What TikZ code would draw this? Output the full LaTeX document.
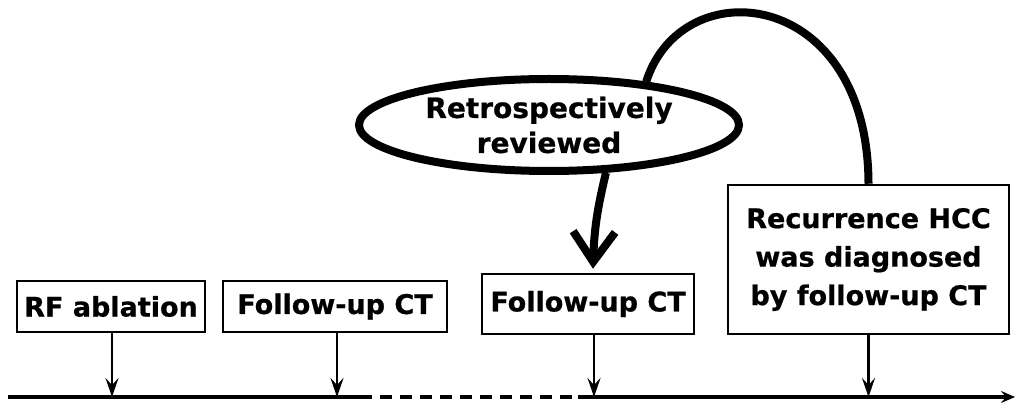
\documentclass[tikz,border=0pt]{standalone}
\usepackage{fontspec}
\setmainfont{DejaVu Sans}[BoldFeatures={FakeBold=0.7}]
\usetikzlibrary{shapes.geometric,arrows.meta}
\begin{document}
\begin{tikzpicture}[x=1pt,y=1pt,
  txt/.style={font=\bfseries\fontsize{27}{38.5}\selectfont,align=center,inner sep=0pt},
  box/.style={txt,draw,line width=2.5pt},
  small/.style={line width=2.5pt,-{Stealth[length=19pt,width=13pt,inset=7pt]}},
  thick line/.style={line width=4pt},
  oval/.style={txt,draw,ellipse,line width=8pt,minimum width=380pt,minimum height=92pt,fontsize},
  fontsize/.style={font=\bfseries\fontsize{28}{35}\selectfont}]
\useasboundingbox (0,0) rectangle (1016,407);
% boxes
\node[box,minimum width=188pt,minimum height=51pt] (b1) at (111,100.5) {RF ablation};
\node[box,minimum width=224pt,minimum height=51pt] (b2) at (335,100.5) {Follow-up CT};
\node[box,minimum width=212pt,minimum height=60pt] (b3) at (588,103) {Follow-up CT};
\node[box,minimum width=281pt,minimum height=149pt] (b4) at (868.5,147.5) {Recurrence HCC\\was diagnosed\\by follow-up CT};
\node[oval] (e) at (549,282) {Retrospectively\\reviewed};
% timeline
\coordinate (t0) at (8,10);
\coordinate (d1) at (360,10);
\coordinate (d2) at (578,10);
\coordinate (tend) at (1015,10);
\draw[thick line] (t0) -- (d1);
\draw[thick line,dash pattern=on 12pt off 8pt] (d1) -- (d2);
\draw[thick line,-{Stealth[length=14pt,width=12pt,inset=5pt]}] (d2) -- (tend);
% small arrows
\draw[small] ([xshift=1pt]b1.south) -- ([xshift=1pt]b1.south |- t0);
\draw[small] ([xshift=2pt]b2.south) -- ([xshift=2pt]b2.south |- t0);
\draw[small] ([xshift=6pt]b3.south) -- ([xshift=6pt]b3.south |- t0);
\draw[small] (b4.south) -- (b4.south |- t0);
% big arrows
\draw[line width=8pt,-{Straight Barb[length=30pt,width=42pt]}] (e.-40) to[bend right=6] ([xshift=5pt,yshift=4pt]b3.north);
\draw[line width=8pt] (e.24) .. controls (682,438) and (868,420) .. (b4.north);
\end{tikzpicture}
\end{document}
